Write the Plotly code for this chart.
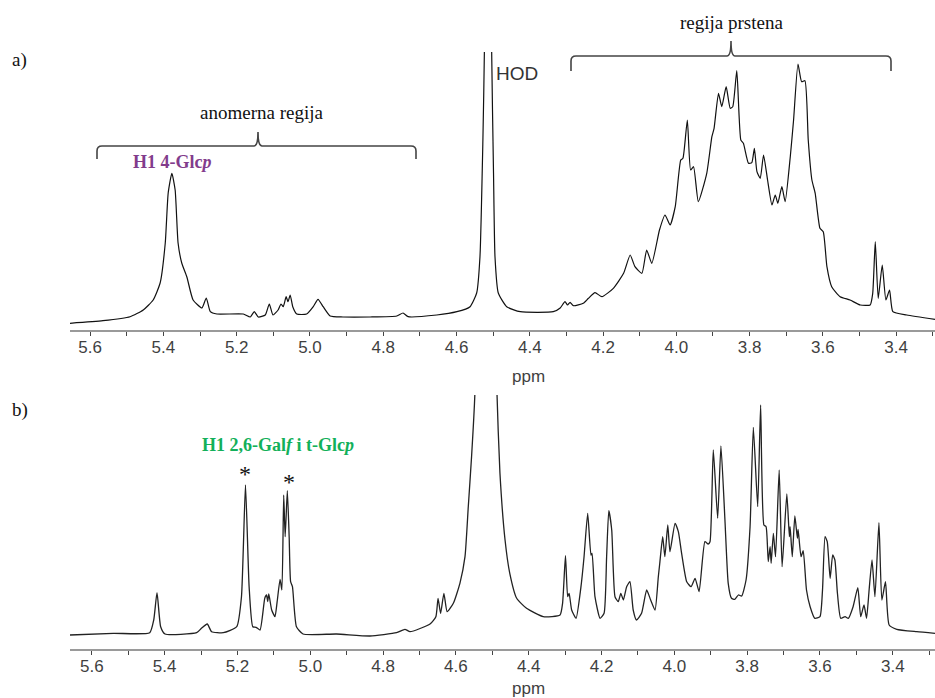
import plotly.graph_objects as go

# ---------------- data ----------------
# a) spectrum: chemical shift (ppm) and intensity (arbitrary units)
top_ppm = [5.655, 5.565, 5.491, 5.455, 5.428, 5.409, 5.395, 5.387, 5.377, 5.368,
           5.360, 5.350, 5.336, 5.319, 5.295, 5.283, 5.272, 5.254, 5.182, 5.163,
           5.152, 5.141, 5.122, 5.111, 5.101, 5.087, 5.079, 5.073, 5.065, 5.060,
           5.054, 5.047, 5.036, 5.009, 4.991, 4.978, 4.964, 4.945, 4.910, 4.836,
           4.763, 4.746, 4.732, 4.654, 4.599, 4.563, 4.545, 4.536, 4.528, 4.524,
           4.514, 4.504, 4.499, 4.495, 4.486, 4.463, 4.426, 4.336, 4.317, 4.304,
           4.297, 4.290, 4.281, 4.254, 4.240, 4.222, 4.203, 4.172, 4.144, 4.126,
           4.113, 4.094, 4.081, 4.067, 4.046, 4.031, 4.017, 4.003, 3.988, 3.982,
           3.970, 3.961, 3.953, 3.940, 3.917, 3.903, 3.897, 3.885, 3.876, 3.864,
           3.853, 3.846, 3.835, 3.824, 3.817, 3.803, 3.794, 3.787, 3.780, 3.771,
           3.762, 3.751, 3.739, 3.730, 3.723, 3.712, 3.703, 3.689, 3.680, 3.668,
           3.658, 3.649, 3.640, 3.630, 3.621, 3.608, 3.599, 3.589, 3.576, 3.553,
           3.526, 3.498, 3.471, 3.464, 3.457, 3.449, 3.438, 3.428, 3.418, 3.409,
           3.371, 3.294]
top_int = [6.7, 9.3, 13.3, 20, 30, 47, 87, 137, 156.7, 140,
           87, 67, 53, 30, 22, 32, 18.3, 16, 16, 13,
           18.3, 13, 15, 26, 15, 20, 26, 23.3, 33.3, 28.3,
           35, 23.3, 16, 16, 23.3, 30.7, 23.3, 14, 13, 13,
           14, 17, 13.3, 15, 18.3, 23.3, 37, 73.3, 190, 277,
           900, 277, 157, 73.3, 37, 23.3, 18.3, 18.3, 22, 28.3,
           25, 27.7, 24.3, 26.7, 31.7, 37.3, 33.3, 41.7, 56.7, 75,
           63.3, 56.7, 80, 66.7, 100, 115, 105, 123.3, 170, 171.7,
           210, 160, 163.3, 128.3, 156.7, 193.3, 201.7, 236.7, 223.3, 243.3,
           221.7, 223.3, 259.3, 190, 186.7, 166.7, 167.3, 181.7, 158.3, 151.7,
           175, 150, 125, 135, 126.7, 143.3, 128.3, 173.3, 210, 266,
           248.3, 249.3, 190, 150, 136.7, 101.7, 98.3, 63.3, 43.3, 33.3,
           30, 25, 25, 36.7, 88.3, 31.7, 65, 30, 40, 18.3,
           15, 10.7]

# b) spectrum
bot_ppm = [5.660, 5.541, 5.441, 5.430, 5.421, 5.411, 5.399, 5.312, 5.299, 5.283,
           5.271, 5.239, 5.202, 5.189, 5.178, 5.168, 5.158, 5.149, 5.138, 5.125,
           5.120, 5.117, 5.114, 5.106, 5.097, 5.091, 5.083, 5.078, 5.073, 5.069,
           5.063, 5.058, 5.054, 5.049, 5.038, 5.020, 4.928, 4.836, 4.763, 4.740,
           4.726, 4.671, 4.655, 4.649, 4.642, 4.633, 4.624, 4.607, 4.589, 4.575,
           4.566, 4.557, 4.548, 4.518, 4.487, 4.479, 4.465, 4.452, 4.433, 4.406,
           4.360, 4.314, 4.307, 4.299, 4.293, 4.289, 4.282, 4.270, 4.257, 4.248,
           4.238, 4.229, 4.226, 4.218, 4.204, 4.193, 4.186, 4.180, 4.172, 4.163,
           4.154, 4.147, 4.140, 4.131, 4.122, 4.113, 4.104, 4.090, 4.076, 4.065,
           4.053, 4.044, 4.040, 4.032, 4.026, 4.018, 4.012, 3.998, 3.989, 3.980,
           3.966, 3.954, 3.943, 3.932, 3.916, 3.907, 3.902, 3.893, 3.881, 3.872,
           3.861, 3.852, 3.843, 3.834, 3.824, 3.815, 3.803, 3.792, 3.783, 3.771,
           3.763, 3.754, 3.748, 3.742, 3.737, 3.734, 3.728, 3.722, 3.712, 3.704,
           3.691, 3.684, 3.682, 3.676, 3.669, 3.662, 3.660, 3.652, 3.646, 3.637,
           3.627, 3.614, 3.600, 3.593, 3.586, 3.580, 3.572, 3.565, 3.559, 3.552,
           3.543, 3.531, 3.522, 3.509, 3.496, 3.488, 3.479, 3.472, 3.465, 3.457,
           3.449, 3.438, 3.430, 3.420, 3.410, 3.389, 3.334, 3.284]
bot_int = [14, 15.7, 16.3, 29, 56.3, 22.3, 15, 16.3, 20.7, 25,
           17.3, 16.3, 22.3, 52.3, 164, 62.3, 22.3, 21.7, 19, 50.7,
           54, 47.3, 55, 39, 32.3, 47.3, 69.7, 59, 154, 112.3,
           158.3, 112.3, 67.3, 62.3, 22.3, 15, 15, 13, 16.3, 19.7,
           17.3, 25, 32.3, 50.7, 35.7, 55.7, 37.3, 45.7, 65.7, 92.3,
           142.3, 192.3, 254, 900, 254, 175.7, 109, 75.7, 50.7, 40.7,
           32.3, 34, 45.7, 93.3, 52.3, 55.7, 39, 30.7, 60.7, 92.3,
           135.7, 94, 95.7, 52.3, 30.7, 35.7, 92.3, 138.3, 119, 52.3,
           47.3, 55.7, 49, 62.3, 67.3, 39, 29, 35.7, 59, 49,
           39, 72.3, 85.7, 112.3, 92.3, 124, 97.3, 125.7, 117.3, 95.7,
           67.3, 62.3, 70.7, 57.3, 107.3, 105, 107.3, 199, 130.7, 203,
           129, 65.7, 50.7, 49.7, 54, 53, 69, 122.3, 221.7, 142.3,
           244, 124, 122.3, 87.3, 102.3, 85.7, 115.7, 92.3, 179, 82.3,
           155, 112.3, 122.3, 92.3, 133, 110.7, 119.7, 92.3, 98.3, 59,
           42.3, 30.7, 32.3, 59, 112.3, 107.3, 70.7, 94, 89, 55.7,
           30.7, 32.3, 30.7, 42.3, 61.3, 32.3, 44, 30.7, 59, 89,
           52.3, 126.3, 49, 67.3, 24, 19.7, 17.3, 15.7]

tick_vals = [5.6, 5.4, 5.2, 5.0, 4.8, 4.6, 4.4, 4.2, 4.0, 3.8, 3.6, 3.4]
tick_text = ["5.6", "5.4", "5.2", "5.0", "4.8", "4.6", "4.4", "4.2", "4.0", "3.8", "3.6", "3.4"]
minor_vals = [5.5, 5.3, 5.1, 4.9, 4.7, 4.5, 4.3, 4.1, 3.9, 3.7, 3.5, 3.3]

# ---------------- layout helpers ----------------
W, H, L = 935, 698, 70


def px(x):
    return (x - L) / (W - L)


def py(y):
    return 1 - y / H


SANS = "Liberation Sans, Arial, sans-serif"
TICKFONT = dict(family=SANS, size=17, color="#3f3f3f")
SERIF = "Liberation Serif, Times New Roman, serif"

fig = go.Figure()
fig.add_trace(go.Scatter(x=top_ppm, y=top_int, mode="lines", xaxis="x", yaxis="y",
                         line=dict(color="#111111", width=1.2, shape="spline", smoothing=0.5),
                         hoverinfo="skip"))
fig.add_trace(go.Scatter(x=bot_ppm, y=bot_int, mode="lines", xaxis="x2", yaxis="y2",
                         line=dict(color="#222222", width=1.3, shape="spline", smoothing=0.5),
                         hoverinfo="skip"))

xcommon = dict(
    tickmode="array", tickvals=tick_vals, ticktext=tick_text,
    ticks="outside", ticklen=4, tickwidth=1.2, tickcolor="#444",
    minor=dict(tickmode="array", tickvals=minor_vals, ticks="outside", ticklen=4,
               tickwidth=1.2, tickcolor="#444"),
    showline=True, linecolor="#9a9a9a", linewidth=2,
    showgrid=False, zeroline=False, tickfont=TICKFONT, automargin=False,
    ticklabelstandoff=-3,
)

fig.update_layout(
    width=W, height=H,
    margin=dict(l=L, r=0, t=0, b=0),
    paper_bgcolor="white", plot_bgcolor="white",
    showlegend=False,
    xaxis=dict(domain=[0, 1], range=[5.655, 3.294], anchor="y", **xcommon),
    yaxis=dict(domain=[py(330), py(52)], range=[0, 278], visible=False, fixedrange=True),
    xaxis2=dict(domain=[0, 1], range=[5.660, 3.284], anchor="y2", **xcommon),
    yaxis2=dict(domain=[py(649), py(395)], range=[0, 254], visible=False, fixedrange=True),
)


def bracket(x0, x1, xm, yh, yend, ytip):
    r = 5
    pts = (f"M {px(x0)},{py(yend)} L {px(x0)},{py(yh + r)} "
           f"Q {px(x0)},{py(yh)} {px(x0 + r)},{py(yh)} "
           f"L {px(xm - 4)},{py(yh)} Q {px(xm)},{py(yh)} {px(xm)},{py(ytip)} "
           f"Q {px(xm)},{py(yh)} {px(xm + 4)},{py(yh)} "
           f"L {px(x1 - r)},{py(yh)} Q {px(x1)},{py(yh)} {px(x1)},{py(yh + r)} "
           f"L {px(x1)},{py(yend)}")
    return dict(type="path", xref="paper", yref="paper", path=pts,
                line=dict(color="#444444", width=1.6))


fig.update_layout(shapes=[
    bracket(97, 416, 258, 146, 159, 132),
    bracket(571, 891, 731, 56, 71, 41),
])

ann = []


def text(x, y, t, size, color="#111", family=SERIF, xanchor="center"):
    ann.append(dict(x=px(x), y=py(y), xref="paper", yref="paper", text=t, showarrow=False,
                    xanchor=xanchor, yanchor="middle",
                    font=dict(family=family, size=size, color=color)))


text(10, 60, "a)", 19, xanchor="left")
text(10, 410, "b)", 19, xanchor="left")
text(261, 112, "anomerna regija", 19)
text(731, 22, "regija prstena", 19)
text(172, 162, "<b>H1 4-Glc<i>p</i></b>", 18, color="#823C8C")
text(278, 445, "<b>H1 2,6-Gal<i>f</i> i t-Glc<i>p</i></b>", 18, color="#12B05A")
text(245, 474, "*", 24)
text(289, 482, "*", 24)
text(494, 73, "HOD", 19, color="#333", family=SANS, xanchor="left")
text(528, 376, "ppm", 17, color="#3f3f3f", family=SANS)
text(528, 688, "ppm", 17, color="#3f3f3f", family=SANS)
fig.update_layout(annotations=ann)

fig.write_html("out.html", config={"displayModeBar": False},
               post_script="document.body.style.margin='0px';")
